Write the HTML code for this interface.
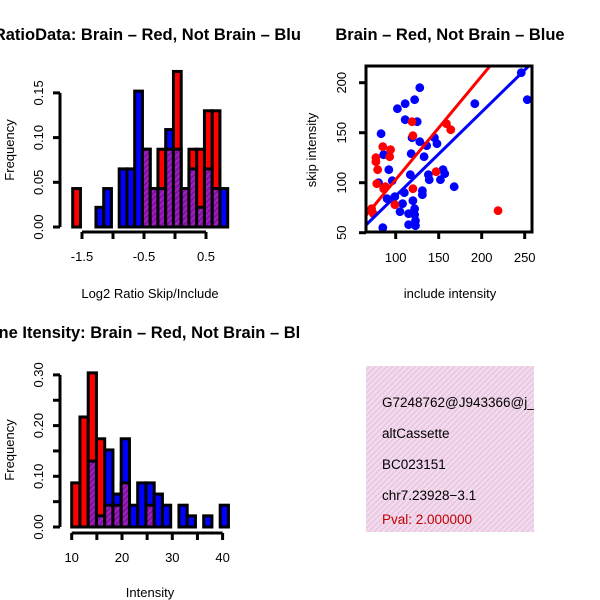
<!DOCTYPE html>
<html><head><meta charset="utf-8"><style>
body{margin:0;background:#fff}
svg{display:block;font-family:"Liberation Sans",sans-serif}
</style></head><body>
<svg id="c" width="600" height="600" viewBox="0 0 600 600">
<defs>
<pattern id="hatch" width="4" height="4" patternUnits="userSpaceOnUse" patternTransform="rotate(45)">
<rect width="4" height="4" fill="#a020c0"/><rect width="2" height="4" fill="#8010a0"/></pattern>
<pattern id="pinkhatch" width="4" height="4" patternUnits="userSpaceOnUse" patternTransform="rotate(45)">
<rect width="4" height="4" fill="#f6d8f0"/><rect width="1.3" height="4" fill="#e0c8d8"/></pattern>
<clipPath id="clipInfo"><rect x="366" y="366" width="168" height="166"/></clipPath>
<clipPath id="clipLeft"><rect x="0" y="0" width="300" height="600"/></clipPath>
</defs>
<g id="g1"></g><g id="g2"></g><g id="g3"></g>
<g>
<rect x="366" y="366" width="168" height="166" fill="url(#pinkhatch)"/>
<g clip-path="url(#clipInfo)" font-size="13.5">
<text x="382" y="407">G7248762@J943366@j_</text>
<text x="382" y="438">altCassette</text>
<text x="382" y="469">BC023151</text>
<text x="382" y="500">chr7.23928−3.1</text>
<text x="382" y="524" fill="#c00000">Pval: 2.000000</text>
</g></g>
</svg>
<script>
// Histogram 1: log2 ratio
const h1Start=-1.65, h1Width=0.125;
const h1Red=[0.043,0,0,0,0,0,0,0,0,0.087,0.043,0.087,0.087,0.174,0.043,0.087,0.087,0.13,0.13,0];
const h1Blue=[0,0,0,0.022,0.043,0,0.065,0.065,0.152,0.087,0.043,0.043,0.109,0.087,0.043,0.065,0.022,0.065,0.043,0.043];
const h1YTicks=[0,0.05,0.10,0.15];
const h1XTicks=[-1.5,-1,-0.5,0,0.5];
const h1XLabels=["-1.5","-0.5","0.5"];
// Histogram 2: intensity
const h2Start=10, h2Width=1.64;
const h2Red=[0.087,0.217,0.304,0.174,0.043,0.043,0.087,0,0,0.043,0,0,0,0,0,0,0,0,0];
const h2Blue=[0,0,0.13,0.022,0.152,0.065,0.174,0.043,0.087,0.087,0.065,0.043,0,0.043,0.022,0,0.022,0,0.043];
const h2YTicks=[0,0.05,0.10,0.15,0.20,0.25,0.30];
const h2YLabels=[0,0.10,0.20,0.30];
const h2XTicks=[10,15,20,25,30,35,40];
const h2XLabels=[10,20,30,40];
// Scatter
const blueX=[246,253,192,128,122,111,102,111,125,83,119,128,136,145,148,133,118,86,92,96,80,117,138,139,152,155,157,168,131,131,110,99,90,108,120,122,105,115,122,123,115,123,85];
const blueY=[210,183,179,195,183,179,174,163,161,149,145,141,137,145,139,126,129,128,113,102,100,108,108,103,103,113,109,96,92,88,90,86,84,79,82,74,71,69,68,62,58,57,55];
const redX=[72,74,88,86,78,77,77,79,85,94,93,99,119,120,120,147,159,164,219];
const redY=[74,69,96,94,99,121,125,113,136,133,126,78,161,147,94,111,159,153,72];
const redLine=[1.036,-0.5];   // slope, intercept
const blueLine=[0.84,2.7];
const scXTicks=[100,150,200,250];
const scYTicks=[50,100,150,200];

const NS="http://www.w3.org/2000/svg";
function mk(parent,tag,attrs,text){const e=document.createElementNS(NS,tag);for(const k in attrs)e.setAttribute(k,attrs[k]);if(text!==undefined)e.textContent=text;parent.appendChild(e);return e;}

function hist(g,start,w,red,blue,sx,sy,base){
  red.forEach((r,i)=>{
    const b=blue[i];const x0=sx(start+i*w),x1=sx(start+(i+1)*w);
    const hi=Math.max(r,b),lo=Math.min(r,b);
    if(hi>0){
      const e=mk(g,'rect',{x:x0,y:sy(hi),width:x1-x0,height:base-sy(hi),fill:r>=b?'#ff0000':'#0000ff',stroke:'#000','stroke-width':3});
      
      
    }
    if(lo>0){
      const e=mk(g,'rect',{x:x0,y:sy(lo),width:x1-x0,height:base-sy(lo),fill:'url(#hatch)',stroke:'#000','stroke-width':3});
      
      
    }
  });
}
function yaxis(g,x,ticks,labels,sy,fmt){
  mk(g,'line',{x1:x,x2:x,y1:sy(ticks[0]),y2:sy(ticks[ticks.length-1]),stroke:'#000','stroke-width':3});
  ticks.forEach(t=>mk(g,'line',{x1:x,x2:x-7,y1:sy(t),y2:sy(t),stroke:'#000','stroke-width':3}));
  labels.forEach(t=>{const e=mk(g,'text',{x:0,y:0,'font-size':13,'text-anchor':'middle',transform:`translate(${x-17},${sy(t)}) rotate(-90)`},fmt(t));
    });
}
function xaxis(g,y,ticks,labels,sx,fmt){
  mk(g,'line',{x1:sx(ticks[0]),x2:sx(ticks[ticks.length-1]),y1:y,y2:y,stroke:'#000','stroke-width':3});
  ticks.forEach(t=>mk(g,'line',{x1:sx(t),x2:sx(t),y1:y,y2:y+7,stroke:'#000','stroke-width':3}));
  labels.forEach(t=>{const e=mk(g,'text',{x:sx(t),y:y+29,'font-size':13,'text-anchor':'middle'},fmt(t));
    });
}
function lbl(g,x,y,txt,name,opt){const e=mk(g,'text',Object.assign({x:x,y:y,'text-anchor':'middle','font-size':13},opt||{}),txt);
  return e;}

// Plot 1
{const g=document.getElementById('g1');
 const sx=v=>206+(v-0.5)*62, base=227, sy=v=>base-v*894;
 hist(g,h1Start,h1Width,h1Red,h1Blue,sx,sy,base);
 yaxis(g,60,h1YTicks,h1YTicks,sy,t=>t.toFixed(2));
 xaxis(g,232,h1XTicks,h1XLabels.map(Number),sx,t=>t.toFixed(1));
 lbl(g,152,40,'RatioData: Brain – Red, Not Brain – Blue','plot1-title',{'font-weight':'bold','font-size':16.5,'clip-path':'url(#clipLeft)'});
 lbl(g,150,298,'Log2 Ratio Skip/Include','plot1-x-axis-title');
 lbl(g,0,0,'Frequency','plot1-y-axis-title',{transform:'translate(14,150) rotate(-90)'});
}
// Plot 2
{const g=document.getElementById('g3');
 const sx=v=>71.7+(v-10)*5.03, base=527, sy=v=>base-v*507;
 hist(g,h2Start,h2Width,h2Red,h2Blue,sx,sy,base);
 yaxis(g,60,h2YTicks,h2YLabels,sy,t=>t.toFixed(2));
 xaxis(g,533,h2XTicks,h2XLabels,sx,t=>String(t));
 lbl(g,148,338,'Gene Itensity: Brain – Red, Not Brain – Blue','plot2-title',{'font-weight':'bold','font-size':16.5,'clip-path':'url(#clipLeft)'});
 lbl(g,150,597,'Intensity','plot2-x-axis-title');
 lbl(g,0,0,'Frequency','plot2-y-axis-title',{transform:'translate(14,450) rotate(-90)'});
}
// Scatter
{const g=document.getElementById('g2');
 const sx=v=>395.7+(v-100)*0.86, sy=v=>182.7-(v-100);
 const cpath=mk(g,'clipPath',{id:'clipSc'});
 mk(cpath,'rect',{x:366,y:66,width:166,height:166});
 const inner=mk(g,'g',{'clip-path':'url(#clipSc)'});
 blueX.forEach((x,i)=>{const c=mk(inner,'circle',{cx:sx(x),cy:sy(blueY[i]),r:4.4,fill:'#0000ff'});
   });
 redX.forEach((x,i)=>{const c=mk(inner,'circle',{cx:sx(x),cy:sy(redY[i]),r:4.4,fill:'#ff0000'});
   });
 [[redLine,'#ff0000','fit-line-red'],[blueLine,'#0000ff','fit-line-blue']].forEach(([L,col,n])=>{
   const x0=30,x1=300;const l=mk(inner,'line',{x1:sx(x0),y1:sy(L[0]*x0+L[1]),x2:sx(x1),y2:sy(L[0]*x1+L[1]),stroke:col,'stroke-width':3});
   });
 mk(g,'rect',{x:366,y:66,width:166,height:166,fill:'none',stroke:'#000','stroke-width':3});
 scXTicks.forEach(t=>{mk(g,'line',{x1:sx(t),x2:sx(t),y1:232,y2:239,stroke:'#000','stroke-width':3});
   lbl(g,sx(t),262,String(t),'scatter-x-tick-label');});
 scYTicks.forEach(t=>{mk(g,'line',{x1:366,x2:359,y1:sy(t),y2:sy(t),stroke:'#000','stroke-width':3});
   lbl(g,0,0,String(t),'scatter-y-tick-label',{transform:`translate(346,${sy(t)}) rotate(-90)`});});
 lbl(g,450,40,'Brain – Red, Not Brain – Blue','scatter-title',{'font-weight':'bold','font-size':16.5});
 lbl(g,450,298,'include intensity','scatter-x-axis-title');
 lbl(g,0,0,'skip intensity','scatter-y-axis-title',{transform:'translate(316,150) rotate(-90)'});
}
</script>
</body></html>
